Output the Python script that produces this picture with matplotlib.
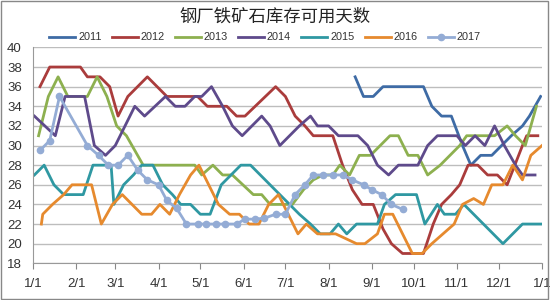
import matplotlib
matplotlib.use("Agg")
import matplotlib.pyplot as plt
from matplotlib.patches import Rectangle

plt.rcParams['font.family'] = ['Liberation Sans', 'Noto Sans CJK SC', 'DejaVu Sans']

title = "钢厂铁矿石库存可用天数"
month_days = [0, 31, 59, 90, 120, 151, 181, 212, 243, 273, 304, 334, 365]
month_labels = ["1/1", "2/1", "3/1", "4/1", "5/1", "6/1", "7/1", "8/1", "9/1", "10/1", "11/1", "12/1", "1/1"]
y_ticks = [18, 20, 22, 24, 26, 28, 30, 32, 34, 36, 38, 40]

d2011 = [231, 237, 244, 251, 280, 286, 293, 300, 308, 314, 321, 329, 336, 343, 351, 356, 364]
v2011 = [37, 35, 35, 36, 36, 34, 33, 33, 30, 28, 29, 29, 30, 31, 32, 33, 35]

d2012 = [5, 12, 34, 39, 48, 55, 61, 68, 82, 96, 118, 125, 139, 146, 152, 174, 181, 188, 195, 201,
         215, 222, 229, 236, 244, 251, 257, 265, 272, 280, 287, 293, 300, 306, 312, 319, 326, 333,
         340, 351, 354, 362]
v2012 = [36, 38, 38, 37, 37, 36, 33, 35, 37, 35, 35, 34, 34, 33, 33, 36, 35, 33, 32, 31,
         31, 28, 25.5, 24, 24, 21.5, 20, 19, 19, 19, 22, 24, 25, 26, 28, 28, 27, 27,
         26, 30, 31, 31]

d2013 = [4, 11, 18, 25, 39, 46, 53, 60, 67, 75, 79, 116, 121, 129, 136, 143, 158, 164, 170, 179,
         186, 194, 201, 208, 215, 220, 227, 234, 242, 249, 256, 262, 269, 276, 283, 292, 299, 306,
         311, 331, 340, 346, 353, 361]
v2013 = [31, 35, 37, 35, 35, 37, 35, 32, 31, 29, 28, 28, 27, 28, 27, 27, 25, 25, 24, 24,
         24, 25.5, 26.5, 27, 27, 28, 27, 29, 29, 30, 31, 31, 29, 29, 27, 28, 29, 30,
         31, 31, 32, 31, 30, 34]

d2014 = [1, 16, 23, 37, 44, 52, 59, 66, 73, 80, 95, 102, 109, 116, 121, 128, 136, 143, 150, 157,
         164, 170, 177, 184, 191, 199, 204, 212, 219, 233, 240, 247, 255, 262, 276, 283, 290, 304,
         310, 317, 324, 331, 338, 346, 351, 360]
v2014 = [33, 31, 35, 35, 30, 29, 30, 32, 34, 33, 35, 34, 34, 35, 35, 36, 34, 32, 31, 32,
         33, 32, 30, 31, 32, 33, 32, 32, 31, 31, 30, 28, 27, 28, 28, 30, 31, 31,
         30, 31, 30, 32, 30, 28, 27, 27]

d2015 = [1, 8, 15, 22, 36, 43, 56, 58, 65, 72, 78, 86, 93, 100, 106, 113, 120, 127, 135, 142,
         149, 156, 163, 170, 177, 184, 191, 199, 206, 213, 219, 225, 232, 247, 252, 260, 275, 281,
         290, 295, 303, 309, 337, 351, 365]
v2015 = [27, 28, 26, 25, 25, 28, 28, 24, 26, 27, 28, 28, 26, 25, 24, 24, 23, 23, 26, 27,
         28, 28, 27, 26, 25, 24, 23, 22, 21, 21, 22, 21, 22, 22, 24, 25, 25, 22,
         24, 23, 23, 24, 20, 22, 22]

d2016 = [6, 7, 14, 22, 28, 42, 49, 57, 64, 71, 78, 85, 91, 98, 105, 113, 119, 126, 133, 141,
         148, 155, 162, 169, 176, 183, 190, 196, 204, 217, 232, 238, 247, 252, 258, 265, 272, 279,
         286, 294, 302, 308, 316, 323, 329, 337, 344, 351, 357, 365]
v2016 = [22, 23, 24, 25, 26, 26, 22, 24, 25, 24, 23, 23, 24, 23, 25, 27, 28, 26, 24, 23,
         23, 22, 22, 24, 25, 23, 21, 22, 21, 21, 20, 20, 21, 23, 23, 21, 19, 19,
         20, 21, 22, 24, 24.6, 24, 26, 26, 28, 26.5, 29, 30]

d2017 = [5, 12, 19, 39, 47, 54, 61, 68, 75, 82, 90, 96, 103, 110, 118, 124, 131, 138, 146, 152,
         159, 166, 174, 181, 188, 195, 201, 208, 215, 222, 229, 237, 243, 250, 257, 265]
v2017 = [29.5, 30.5, 35, 30, 29, 28, 28, 29, 27.5, 26.5, 26, 24.4, 23.6, 22, 22, 22, 22, 22, 22, 22.5,
         22.5, 22.6, 23, 23, 25, 26, 27, 27, 27, 27, 26.5, 26, 25.5, 25, 24, 23.5]

series = [
    ("2011", d2011, v2011, "#3E6BA5"),
    ("2012", d2012, v2012, "#AA3C3C"),
    ("2013", d2013, v2013, "#8DB04F"),
    ("2014", d2014, v2014, "#5E4A8B"),
    ("2015", d2015, v2015, "#2F98A2"),
    ("2016", d2016, v2016, "#E68A2E"),
]

fig = plt.figure(figsize=(5.5, 3.0), dpi=100)
fig.patch.set_facecolor("white")
ax = fig.add_axes([33 / 550, 1 - 263.3 / 300, (542 - 33) / 550, (263.3 - 47.4) / 300])

for name, d, v, c in series:
    ax.plot(d, v, color=c, lw=2.0, label=name, solid_joinstyle="round")
ax.plot(d2017, v2017, color="#94ACD5", lw=2.0, marker="o", markersize=4.5,
        markeredgecolor="#94ACD5", label="2017")

ax.set_xlim(0, 365)
ax.set_ylim(18, 40)
ax.set_xticks(month_days)
ax.set_xticklabels(month_labels)
ax.set_yticks(y_ticks)
ax.tick_params(axis="x", length=4, color="#888888", labelsize=9.5, labelcolor="#333333", pad=6.5, direction="out")
ax.tick_params(axis="y", length=0, labelsize=9.5, labelcolor="#333333", pad=8)
ax.grid(axis="y", color="#BDBDBD", lw=1.0)
ax.set_axisbelow(True)
for s in ["top", "right"]:
    ax.spines[s].set_visible(False)
ax.spines["left"].set_color("#999999")
ax.spines["bottom"].set_color("#999999")

fig.text(0.5, 1 - 17 / 300, title, ha="center", va="center", fontsize=12.5,
         family=["Noto Sans CJK SC"], color="#222222")

leg = fig.legend(loc="center", bbox_to_anchor=(265 / 550, 1 - 37.5 / 300), ncol=7,
                 frameon=False, fontsize=7.8, handlelength=2.4, handletextpad=0.25,
                 columnspacing=0.95, borderaxespad=0)
for t in leg.get_texts():
    t.set_color("#333333")

fig.patches.append(Rectangle((0.002, 0.003), 0.995, 0.994, transform=fig.transFigure,
                             fill=False, edgecolor="#888888", lw=1.0))

fig.savefig("out.png", dpi=100)
